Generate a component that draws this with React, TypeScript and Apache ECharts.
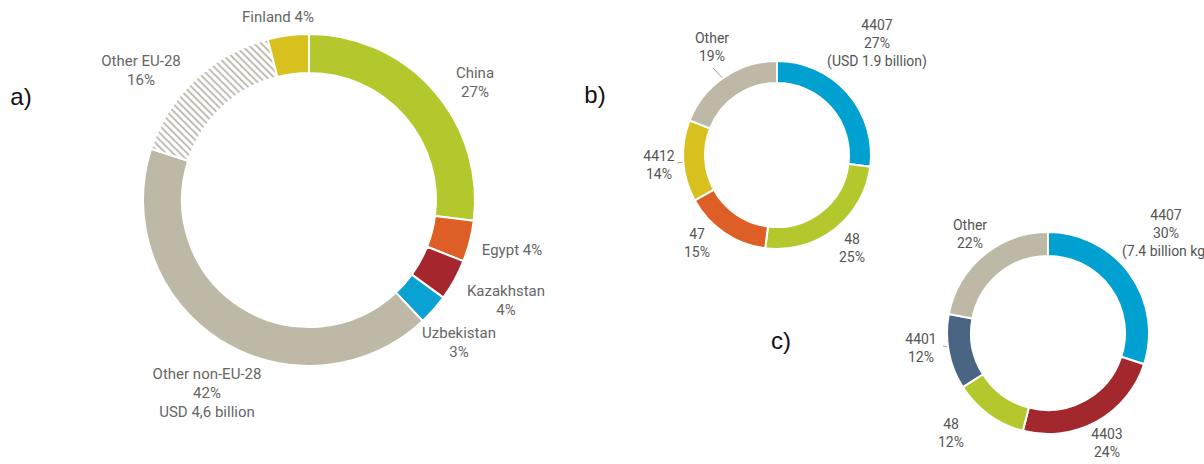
import React, { useEffect, useRef } from "react";
import * as echarts from "echarts";

// ---- Data ----
const aNames = ["China", "Egypt", "Kazakhstan", "Uzbekistan", "Other non-EU-28", "Other EU-28", "Finland"];
const aValues = [27, 4, 4, 3, 42, 16, 4];
const aNotes = ["", "", "", "", "USD 4,6 billion", "", ""];
const aInline = [false, true, false, false, false, false, true];

const bNames = ["4407", "48", "47", "4412", "Other"];
const bValues = [27, 25, 15, 14, 19];
const bNotes = ["(USD 1.9 billion)", "", "", "", ""];

const cNames = ["4407", "4403", "48", "4401", "Other"];
const cValues = [30, 24, 12, 12, 22];
const cNotes = ["(7.4 billion kg)", "", "", "", ""];

const panelLabels = ["a)", "b)", "c)"];

// ---- Styles / layout ----
const aColors = ["#b4c72d", "#de5f26", "#a5272d", "#0aa2d3", "#bdb9a6", "#ffffff", "#d8c11e"];
const bColors = ["#00a1d1", "#b4c72d", "#de5f26", "#d8c11e", "#bdb9a6"];
const cColors = ["#00a1d1", "#a3282e", "#b4c72d", "#4a6584", "#bdb9a6"];

const aGeom = { cx: 309, cy: 200, r0: 127, r1: 166 };
const bGeom = { cx: 777, cy: 155, r0: 72, r1: 94 };
const cGeom = { cx: 1048, cy: 333, r0: 77, r1: 101 };

const aLabelPos = [[475, 82], [512, 250], [506, 300], [459, 342], [207, 393], [141, 70], [278, 17]];
const bLabelPos = [[877, 43], [852, 248], [697, 243], [659, 165], [712, 47]];
const cLabelPos = [[1166, 233], [1107, 443], [951, 433], [921, 348], [970, 234]];

// label-line start points (null = no line)
const bLineStart: (number[] | null)[] = [null, null, null, [677, 163], [713, 68]];
const cLineStart: (number[] | null)[] = [null, null, null, [943, 346], null];

const panelPos = [[21, 96], [595, 94], [781, 340]];

function midPoint(values: number[], i: number, g: { cx: number; cy: number; r0: number; r1: number }) {
  const total = values.reduce((s, v) => s + v, 0);
  let before = 0;
  for (let k = 0; k < i; k++) before += values[k];
  const ang = ((before + values[i] / 2) / total) * Math.PI * 2;
  const r = (g.r0 + g.r1) / 2;
  return [g.cx + r * Math.sin(ang), g.cy - r * Math.cos(ang)];
}

function makeSeries(
  names: string[],
  values: number[],
  notes: string[],
  colors: string[],
  geom: { cx: number; cy: number; r0: number; r1: number },
  labelPos: number[][],
  lineStart: (number[] | null)[],
  inline: boolean[] | null,
  fontSize: number,
  textColor: string,
  decalIndex: number
) {
  return {
    type: "pie",
    center: [geom.cx, geom.cy],
    radius: [geom.r0, geom.r1],
    startAngle: 90,
    clockwise: true,
    avoidLabelOverlap: false,
    silent: true,
    emphasis: { disabled: true },
    itemStyle: { borderColor: "#ffffff", borderWidth: 2 },
    label: {
      show: true,
      position: "outside",
      color: textColor,
      fontSize,
      lineHeight: fontSize + 4,
      fontFamily: "Roboto",
      formatter: (p: any) => {
        const i = p.dataIndex;
        const pct = values[i] + "%";
        let s = inline && inline[i] ? names[i] + " " + pct : names[i] + "\n" + pct;
        if (notes[i]) s += "\n" + notes[i];
        return s;
      },
    },
    labelLine: { show: false },
    labelLayout: (params: any) => {
      const i = params.dataIndex;
      const out: any = {
        x: labelPos[i][0],
        y: labelPos[i][1],
        align: "center",
        verticalAlign: "middle",
      };
      const st = lineStart[i];
      if (st) {
        const end = midPoint(values, i, geom);
        out.labelLinePoints = [st, st, end];
      }
      return out;
    },
    data: names.map((n, i) => {
      const item: any = {
        name: n,
        value: values[i],
        itemStyle: { color: colors[i] },
      };
      if (i === decalIndex) {
        item.itemStyle.decal = {
          symbol: "rect",
          symbolSize: 1,
          color: "#c2bfb3",
          backgroundColor: "#ffffff",
          dashArrayX: [1, 0],
          dashArrayY: [2, 2.5],
          rotation: Math.PI / 4,
        };
      }
      if (lineStart[i]) {
        item.labelLine = { show: true, lineStyle: { color: "#a0a0a0", width: 1 } };
      }
      return item;
    }),
  };
}

export default function App() {
  const ref = useRef<HTMLDivElement>(null);
  useEffect(() => {
    if (!ref.current) return;
    const chart = echarts.init(ref.current, undefined, { renderer: "svg" });
    const none: (number[] | null)[] = aNames.map(() => null);
    chart.setOption({
      animation: false,
      backgroundColor: "#ffffff",
      graphic: panelLabels.map((t, i) => ({
        type: "text",
        x: panelPos[i][0],
        y: panelPos[i][1],
        style: {
          text: t,
          fontSize: 24,
          fontFamily: "Liberation Sans",
          fill: "#111111",
          textAlign: "center",
          textVerticalAlign: "middle",
        },
      })),
      series: [
        makeSeries(aNames, aValues, aNotes, aColors, aGeom, aLabelPos, none, aInline, 15, "#666666", 5),
        makeSeries(bNames, bValues, bNotes, bColors, bGeom, bLabelPos, bLineStart, null, 14, "#555555", -1),
        makeSeries(cNames, cValues, cNotes, cColors, cGeom, cLabelPos, cLineStart, null, 14, "#555555", -1),
      ],
    });
    return () => chart.dispose();
  }, []);
  return (
    <div
      ref={ref}
      style={{ position: "fixed", left: 0, top: 0, width: 1204, height: 464, overflow: "hidden" }}
    />
  );
}
